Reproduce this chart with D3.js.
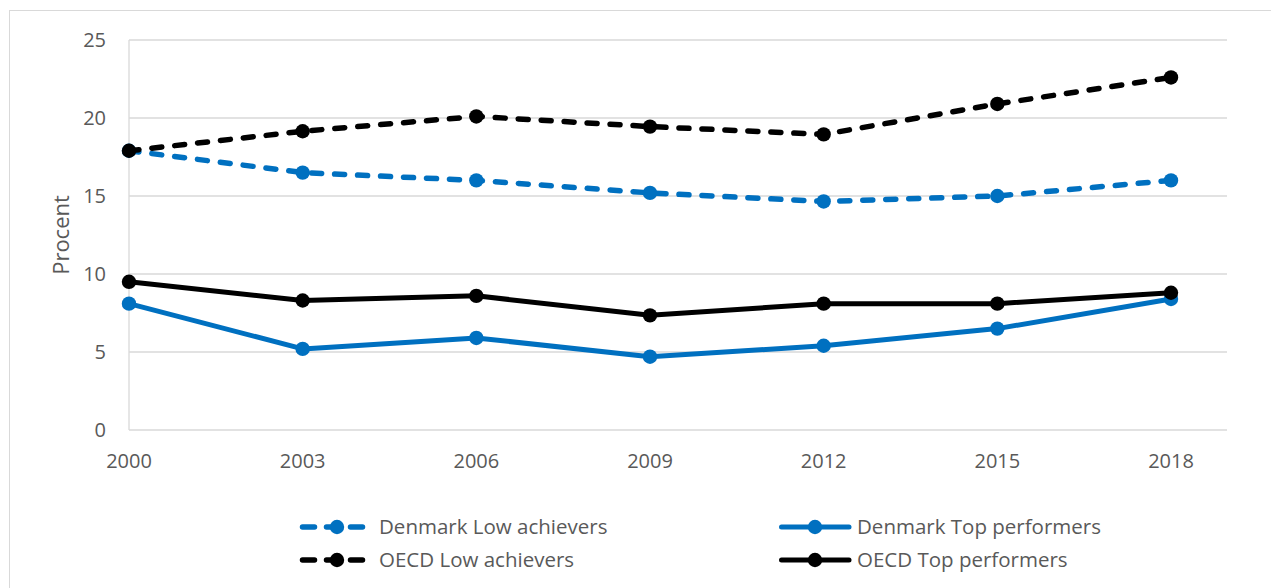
<!DOCTYPE html>
<html><head><meta charset="utf-8">
<script src="https://cdn.jsdelivr.net/npm/d3@7"></script>
<style>body{margin:0;background:#fff;font-family:"Open Sans","Liberation Sans",sans-serif;}</style>
</head><body><svg id="c" width="1271" height="588"></svg>
<script>
const years = [2000, 2003, 2006, 2009, 2012, 2015, 2018];
const dkLow = [17.9, 16.5, 16.0, 15.2, 14.65, 15.0, 16.0];
const dkTop = [8.1, 5.2, 5.9, 4.7, 5.4, 6.5, 8.4];
const oecdLow = [17.9, 19.15, 20.1, 19.45, 18.95, 20.9, 22.6];
const oecdTop = [9.5, 8.3, 8.6, 7.35, 8.1, 8.1, 8.8];
const yTicks = [0, 5, 10, 15, 20, 25];
const seriesNames = ["Denmark Low achievers", "Denmark Top performers", "OECD Low achievers", "OECD Top performers"];

const series = [
  {name: seriesNames[0], values: dkLow, color: "#0070c0", dash: true},
  {name: seriesNames[1], values: dkTop, color: "#0070c0", dash: false},
  {name: seriesNames[2], values: oecdLow, color: "#000000", dash: true},
  {name: seriesNames[3], values: oecdTop, color: "#000000", dash: false}
];

const svg = d3.select("#c");
svg.append("rect").attr("x", 9.5).attr("y", 10.5).attr("width", 1300).attr("height", 600)
  .attr("fill", "#fff").attr("stroke", "#d9d9d9");

const x = d3.scaleLinear().domain([2000, 2018]).range([129, 1171]);
const y = d3.scaleLinear().domain([0, 25]).range([430, 40]);
const plotRight = 1227;

svg.append("g").selectAll("line").data(yTicks.filter(d => d > 0)).join("line")
  .attr("x1", 129).attr("x2", plotRight).attr("y1", d => y(d)).attr("y2", d => y(d))
  .attr("stroke", "#d9d9d9").attr("stroke-width", 1.3);

svg.append("line").attr("x1", 129).attr("x2", 129).attr("y1", 40).attr("y2", 430).attr("stroke", "#d9d9d9").attr("stroke-width", 1.3);
svg.append("line").attr("x1", 129).attr("x2", plotRight).attr("y1", 430).attr("y2", 430).attr("stroke", "#d9d9d9").attr("stroke-width", 1.3);

svg.append("g").selectAll("text").data(yTicks).join("text")
  .attr("x", 106).attr("y", d => y(d)).attr("dy", "0.35em").attr("text-anchor", "end")
  .attr("font-size", 20).attr("fill", "#595959").text(d => d);

svg.append("g").selectAll("text").data(years).join("text")
  .attr("x", d => x(d)).attr("y", 461).attr("dy", "0.35em").attr("text-anchor", "middle")
  .attr("font-size", 20).attr("fill", "#595959").text(d => d);

svg.append("text").attr("transform", "translate(61,235) rotate(-90)").attr("text-anchor", "middle")
  .attr("dy", "0.35em").attr("font-size", 22).attr("fill", "#595959").text("Procent");

const line = d3.line().x((d, i) => x(years[i])).y(d => y(d));

series.forEach(s => {
  const g = svg.append("g");
  g.append("path").datum(s.values).attr("d", line).attr("fill", "none")
    .attr("stroke", s.color).attr("stroke-width", s.dash ? 5.5 : 5)
    .attr("stroke-linecap", "round").attr("stroke-linejoin", "round")
    .attr("stroke-dasharray", s.dash ? "10,13" : null);
  g.selectAll("circle").data(s.values).join("circle")
    .attr("cx", (d, i) => x(years[i])).attr("cy", d => y(d)).attr("r", 7.2).attr("fill", s.color);
});

const legendPos = [
  {x: 300, y: 527}, {x: 779, y: 527}, {x: 300, y: 560}, {x: 779, y: 560}
];
series.forEach((s, k) => {
  const p = legendPos[k];
  const g = svg.append("g").attr("transform", `translate(${p.x},${p.y})`);
  if (s.dash) {
    g.append("line").attr("x1", 2.5).attr("x2", 64).attr("y1", 0).attr("y2", 0)
      .attr("stroke", s.color).attr("stroke-width", 5.5).attr("stroke-linecap", "round")
      .attr("stroke-dasharray", "12,12");
  } else {
    g.append("line").attr("x1", 2.5).attr("x2", 70).attr("y1", 0).attr("y2", 0)
      .attr("stroke", s.color).attr("stroke-width", 5).attr("stroke-linecap", "round");
  }
  g.append("circle").attr("cx", s.dash ? 37 : 36).attr("cy", 0).attr("r", 7.2).attr("fill", s.color);
  g.append("text").attr("x", s.dash ? 79 : 78).attr("y", 0).attr("dy", "0.35em")
    .attr("font-size", 20.5).attr("fill", "#595959").text(s.name);
});
</script></body></html>
